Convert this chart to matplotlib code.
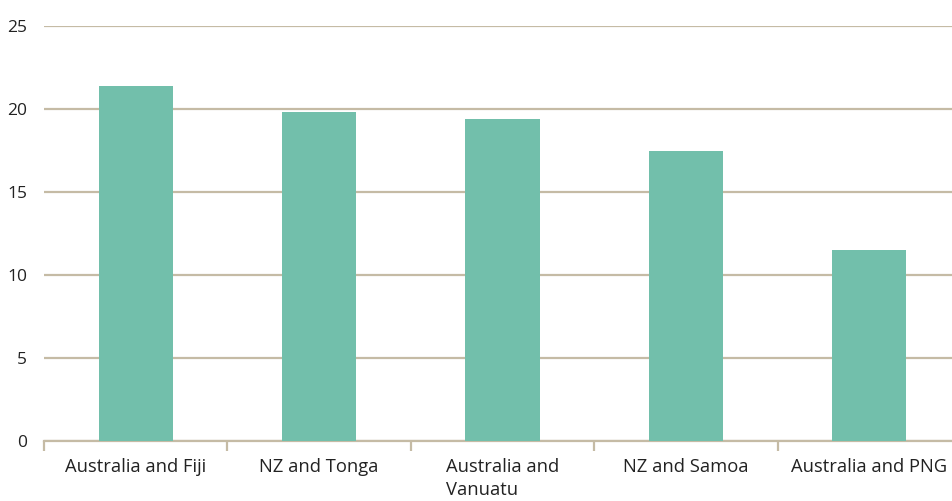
import matplotlib
matplotlib.use("Agg")
import matplotlib.pyplot as plt
import numpy as np

categories = ["Australia and Fiji", "NZ and Tonga", "Australia and\nVanuatu", "NZ and Samoa", "Australia and PNG"]
values = [21.4, 19.8, 19.4, 17.5, 11.5]
yticks = [0, 5, 10, 15, 20, 25]

plt.rcParams["font.family"] = ["Open Sans", "DejaVu Sans"]
GRID = "#c5bba5"
BAR = "#72bfab"

fig = plt.figure(figsize=(9.53, 5.01), dpi=100)
ax = fig.add_axes([44 / 953, 60 / 501, 917 / 953, 415 / 501])
x = np.arange(len(categories))
ax.bar(x, values, width=0.405, color=BAR, zorder=3)

ax.set_xlim(-0.5, len(categories) - 0.5)
ax.set_ylim(0, 25)
ax.set_yticks(yticks)
ax.set_yticklabels([str(t) for t in yticks], fontsize=12.5, color="#222222")
ax.yaxis.grid(True, color=GRID, lw=1.6, zorder=0)
ax.tick_params(axis="y", length=0, pad=12)

ax.set_xticks(x)
ax.set_xticklabels(categories, fontsize=13.2, color="#222222", multialignment="left", linespacing=1.4)
ax.tick_params(axis="x", which="major", length=0, pad=12)
ax.set_xticks(np.arange(-0.5, len(categories), 1.0), minor=True)
ax.tick_params(axis="x", which="minor", length=7, width=1.6, color=GRID)

for s in ["top", "right", "left"]:
    ax.spines[s].set_visible(False)
ax.spines["bottom"].set_color(GRID)
ax.spines["bottom"].set_linewidth(1.6)

fig.savefig("out.png", dpi=100)
